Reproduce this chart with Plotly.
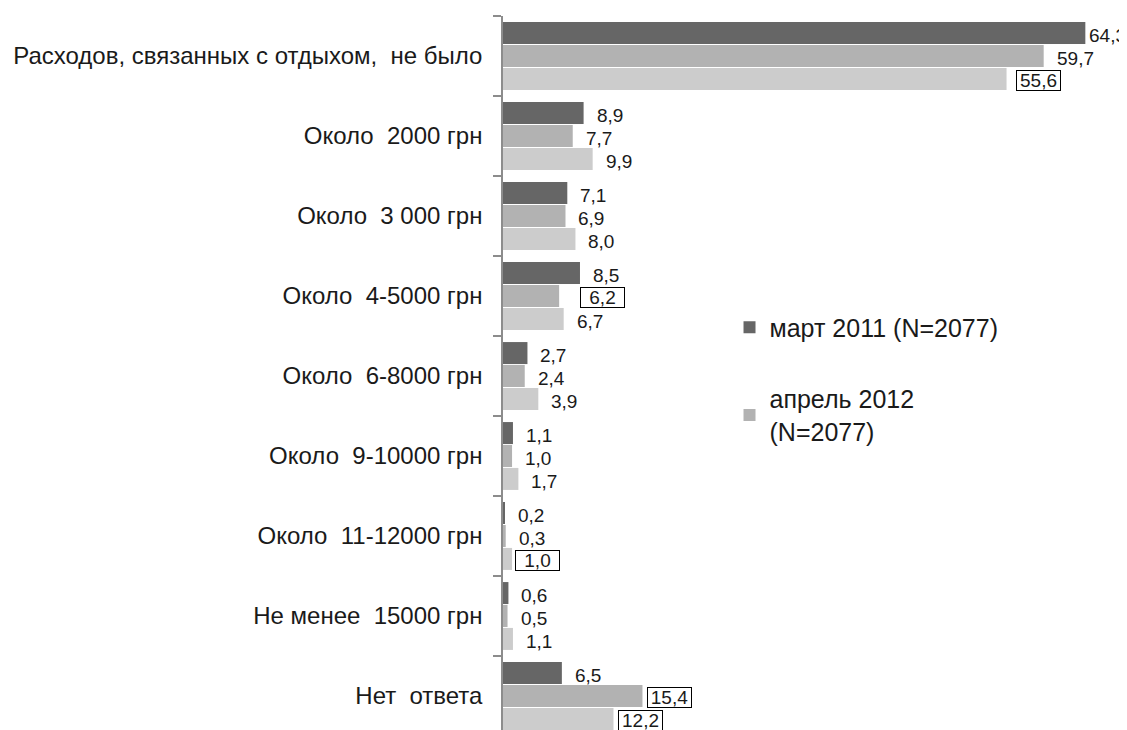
import plotly.graph_objects as go

categories = [
    "Расходов, связанных с отдыхом,  не было",
    "Около  2000 грн",
    "Около  3 000 грн",
    "Около  4-5000 грн",
    "Около  6-8000 грн",
    "Около  9-10000 грн",
    "Около  11-12000 грн",
    "Не менее  15000 грн",
    "Нет  ответа",
]
series_names = ["март 2011 (N=2077)", "апрель 2012<br>(N=2077)", "серия 3"]
mar2011 = [64.3, 8.9, 7.1, 8.5, 2.7, 1.1, 0.2, 0.6, 6.5]
apr2012 = [59.7, 7.7, 6.9, 6.2, 2.4, 1.0, 0.3, 0.5, 15.4]
series3 = [55.6, 9.9, 8.0, 6.7, 3.9, 1.7, 1.0, 1.1, 12.2]

# labels drawn with a frame (series index, category index) -> pixel shift
boxed_shift = {(2, 0): 9, (1, 3): 21, (2, 6): 3, (1, 8): 5, (2, 8): 5}
# labels that must stay inside the right edge of the figure
edge_labels = {(0, 0)}

colors = ["#666666", "#b2b2b2", "#cccccc"]
all_series = [mar2011, apr2012, series3]
show_leg = [True, True, False]

FONT = "Liberation Sans, Arial"

fig = go.Figure()
for k, (vals, name, col) in enumerate(zip(all_series, series_names, colors)):
    fig.add_trace(go.Bar(
        y=categories, x=vals, name=name, orientation="h",
        marker=dict(color=col, line=dict(width=0)),
        showlegend=show_leg[k], legendgroup=f"g{k}",
    ))

offsets = [-23, 0, 23]
for k, vals in enumerate(all_series):
    for i, v in enumerate(vals):
        label = f"{v:.1f}".replace(".", ",")
        if (k, i) in boxed_shift:
            fig.add_annotation(
                x=v, y=categories[i], xref="x", yref="y", text=label,
                showarrow=False, xanchor="left", yanchor="middle",
                xshift=boxed_shift[(k, i)], yshift=-offsets[k] - 1,
                width=43, height=19, align="center",
                font=dict(family=FONT, size=19, color="#1a1a1a"),
                bordercolor="#000000", borderwidth=1, borderpad=0,
                bgcolor="white",
            )
        elif (k, i) in edge_labels:
            fig.add_annotation(
                x=1, y=categories[i], xref="paper", yref="y", text=label,
                showarrow=False, xanchor="right", yanchor="middle",
                xshift=-1, yshift=-offsets[k] - 2,
                borderpad=0, borderwidth=0,
                font=dict(family=FONT, size=19, color="#1a1a1a"),
            )
        else:
            fig.add_annotation(
                x=v, y=categories[i], xref="x", yref="y", text=label,
                showarrow=False, xanchor="left", yanchor="middle",
                xshift=13, yshift=-offsets[k] - 2,
                borderpad=0, borderwidth=0,
                font=dict(family=FONT, size=19, color="#1a1a1a"),
            )

# page body has an 8px margin, so the figure is sized to fit inside the window
fig.update_layout(
    width=1119, height=722,
    margin=dict(l=495, r=0, t=8, b=0, autoexpand=False),
    paper_bgcolor="white", plot_bgcolor="white",
    barmode="group", bargap=0.14, bargroupgap=0.04,
    font=dict(family=FONT, size=24, color="#1a1a1a"),
    xaxis=dict(range=[0, 68.9], visible=False, fixedrange=True),
    yaxis=dict(
        range=[8.425, -0.5], automargin=False,
        showline=True, linecolor="#8c8c8c", linewidth=1.5,
        ticks="outside", tickson="boundaries", ticklen=8, tickcolor="#8c8c8c",
        tickwidth=1.5, ticklabelstandoff=14, showgrid=False,
        tickfont=dict(family=FONT, size=24, color="#1a1a1a"),
    ),
    legend=dict(
        x=0.363, y=0.596, xanchor="left", yanchor="top",
        traceorder="grouped", tracegroupgap=36,
        font=dict(family=FONT, size=25, color="#1a1a1a"),
        itemwidth=30, bgcolor="rgba(0,0,0,0)",
    ),
)

fig.write_html("out.html")
